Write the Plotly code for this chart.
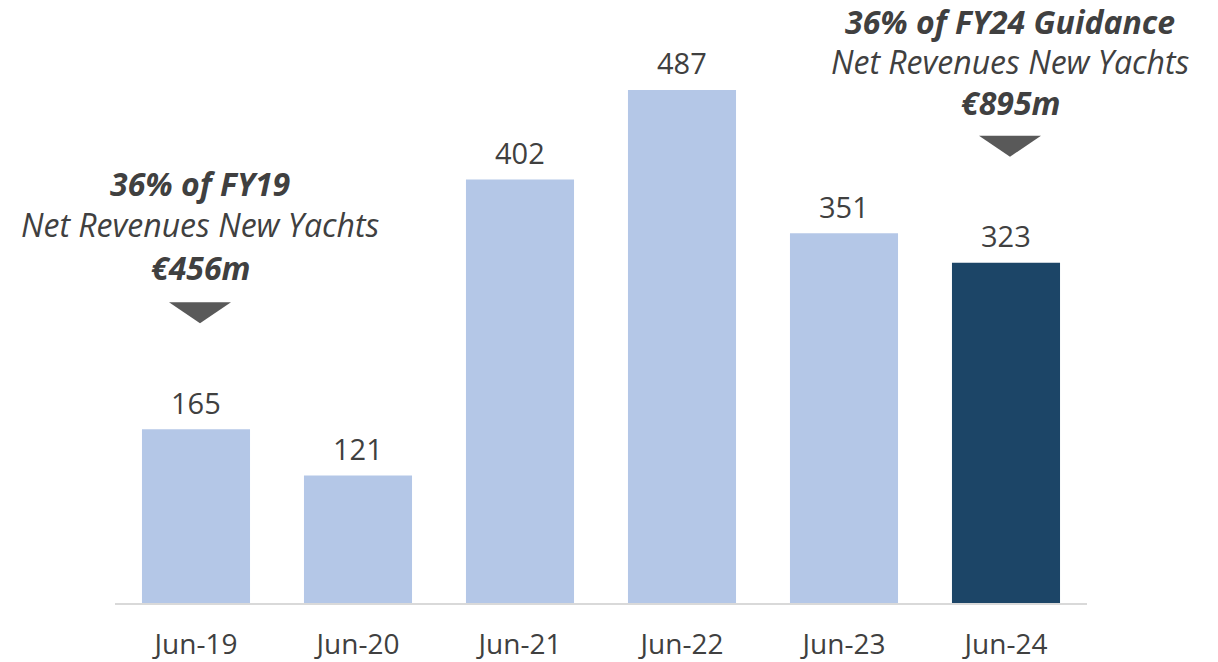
import plotly.graph_objects as go

# Net revenues new yachts, order intake by period (EUR m)
periods = ["Jun-19", "Jun-20", "Jun-21", "Jun-22", "Jun-23", "Jun-24"]
values = [165, 121, 402, 487, 351, 323]
bar_colors = ["#B4C7E7", "#B4C7E7", "#B4C7E7", "#B4C7E7", "#B4C7E7", "#1C4567"]

# Callouts above selected bars
callout_periods = ["Jun-19", "Jun-24"]
callout_head = ["36% of FY19", "36% of FY24 Guidance"]
callout_sub = ["Net Revenues New Yachts", "Net Revenues New Yachts"]
callout_amount = ["€456m", "€895m"]

FONT = "Open Sans"
TEXT_COLOR = "#404040"
NOTE_COLOR = "#404040"

# pixel offsets of the three callout lines above the bar top
CALLOUT_SHIFTS = {"Jun-19": (246, 205, 162), "Jun-24": (241, 201, 160)}

fig = go.Figure(
    go.Bar(
        x=periods,
        y=values,
        marker=dict(color=bar_colors, line=dict(width=0)),
        cliponaxis=False,
        hoverinfo="skip",
    )
)

# value labels above each bar
for i, v in enumerate(values):
    fig.add_annotation(
        x=i, y=v, xref="x", yref="y",
        text=str(v), showarrow=False,
        xanchor="center", yanchor="middle", yshift=27,
        font=dict(family=FONT, size=29, color=TEXT_COLOR),
    )

for p, head, sub, amt in zip(callout_periods, callout_head, callout_sub, callout_amount):
    idx = periods.index(p)
    top = values[idx]
    texts = [f"<b><i>{head}</i></b>", f"<i>{sub}</i>", f"<b><i>{amt}</i></b>"]
    for txt, shift in zip(texts, CALLOUT_SHIFTS[p]):
        fig.add_annotation(
            x=idx, y=top, xref="x", yref="y",
            text=txt, showarrow=False,
            xanchor="center", yanchor="middle",
            xshift=4, yshift=shift,
            font=dict(family=FONT, size=32, color=NOTE_COLOR),
        )
    # downward pointer under the callout
    fig.add_shape(
        type="path",
        xref="x", yref="y",
        xsizemode="pixel", ysizemode="pixel",
        xanchor=idx, yanchor=top,
        path="M -27,127 L 35,127 L 4,106 Z",
        fillcolor="#595959",
        line=dict(width=0),
    )

fig.update_layout(
    width=1218,
    height=662,
    margin=dict(l=115, r=131, t=20, b=59),
    paper_bgcolor="white",
    plot_bgcolor="white",
    bargap=0.333,
    showlegend=False,
    font=dict(family=FONT, color=TEXT_COLOR),
)
fig.update_xaxes(
    type="category",
    range=[-0.5, len(periods) - 0.5],
    automargin=False,
    showgrid=False,
    showline=True,
    linecolor="#D9D9D9",
    linewidth=2,
    ticks="outside",
    ticklen=15,
    tickcolor="rgba(0,0,0,0)",
    tickfont=dict(family=FONT, size=28, color=TEXT_COLOR),
    fixedrange=True,
)
fig.update_yaxes(
    range=[0, 583 / 1.0534],
    visible=False,
    automargin=False,
    showgrid=False,
    zeroline=False,
    fixedrange=True,
)

fig.write_html("out.html", config={"displayModeBar": False})
